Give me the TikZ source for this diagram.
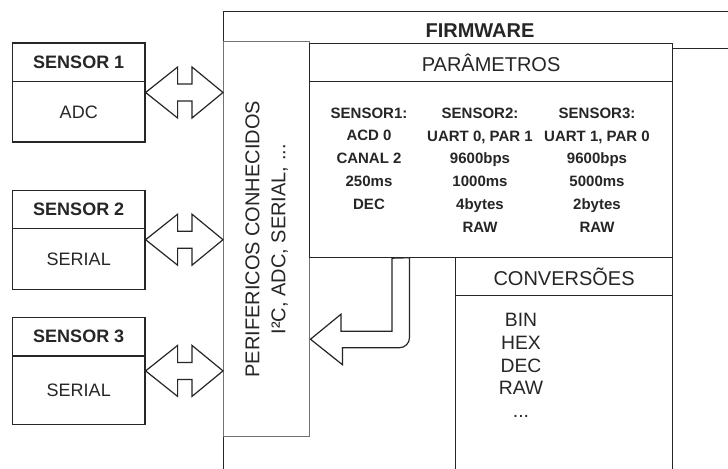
\documentclass[tikz,border=0pt]{standalone}
\usepackage{fontspec}
\setmainfont{Liberation Sans}
\usetikzlibrary{positioning, calc}

\begin{document}
\begin{tikzpicture}[x=0.75pt, y=-0.75pt, line width=0.9pt,
    box/.style={draw=black!85, inner sep=0pt, text=black!85},
    head/.style={box, minimum width=99.4pt, minimum height=28.9pt, font=\bfseries\fontsize{13.5}{16}\selectfont},
    sens/.style={box, minimum width=99.4pt, minimum height=74.25pt},
    val/.style={inner sep=0pt, text=black!85, font=\fontsize{13.5}{16}\selectfont},
    ttl/.style={box, minimum height=28.5pt, font=\fontsize{15}{18}\selectfont},
    col/.style={align=center, inner sep=0pt, text=black!85, font=\bfseries\fontsize{11.25}{17.1}\selectfont},
    bus/.style={draw=black!85, line join=miter, to path={
        -- ([shift={(32,-25.5)}]\tikztostart) -- ([shift={(32,-8.5)}]\tikztostart)
        -- ([shift={(-31,-8.5)}]\tikztotarget) -- ([shift={(-31,-25.5)}]\tikztotarget)
        -- (\tikztotarget) -- ([shift={(-31,25.5)}]\tikztotarget) -- ([shift={(-31,8.5)}]\tikztotarget)
        -- ([shift={(32,8.5)}]\tikztostart) -- ([shift={(32,25.5)}]\tikztostart) -- cycle}}]
    \useasboundingbox (0,0) rectangle (728,468);
    \fill[white] (0,0) rectangle (728,468);
    \clip (0,0) rectangle (728,468);

    % firmware frame
    \node[box, anchor=north west, minimum width=400pt, minimum height=400pt] (fw) at (223,11) {};
    \node[text=black!85, font=\bfseries\fontsize{15}{18}\selectfont] (fwt) at (480,31) {FIRMWARE};
    \node[box, anchor=north west, minimum width=60pt, minimum height=400pt] (aux) at (672,48) {};

    % perifericos
    \node[box, draw=black!55, line width=1.1pt, anchor=north west, minimum width=64.5pt, minimum height=296.25pt] (per) at (223,41) {};
    \node[rotate=90, align=center, text=black!85, font=\fontsize{15}{19.5}\selectfont] (pert) at (per.center) {PERIFERICOS CONHECIDOS\\I²C, ADC, SERIAL, ...};

    % parametros
    \node[box, anchor=north west, minimum width=272.25pt, minimum height=160.5pt] (par) at (309,43) {};
    \node[ttl, anchor=north, minimum width=272.25pt] (part) at (par.north) {PARÂMETROS};
    \node[col] (c1) at (369,158.6) {SENSOR1:\\ACD 0\\CANAL 2\\250ms\\DEC};
    \node[col] (c2) at (480,170) {SENSOR2:\\UART 0, PAR 1\\9600bps\\1000ms\\4bytes\\RAW};
    \node[col] (c3) at (597,170) {SENSOR3:\\UART 1, PAR 0\\9600bps\\5000ms\\2bytes\\RAW};

    % conversoes
    \node[box, anchor=north west, minimum width=162.75pt, minimum height=200pt] (conv) at (455,257) {};
    \node[ttl, anchor=north, minimum width=162.75pt] (convt) at (conv.north) {CONVERSÕES};
    \node[align=center, inner sep=0pt, text=black!85, font=\fontsize{14.5}{17}\selectfont] (lst) at (521,365.4) {BIN\\HEX\\DEC\\RAW\\...};

    % sensores
    \node[sens] (s1) at (78.75,92.5) {};
    \node[sens, below=35.25pt of s1] (s2) {};
    \node[sens, minimum height=80.25pt, below=20.25pt of s2] (s3) {};
    \node[head, anchor=north] (s1h) at (s1.north) {SENSOR 1};
    \node[head, anchor=north] (s2h) at (s2.north) {SENSOR 2};
    \node[head, anchor=north] (s3h) at (s3.north) {SENSOR 3};
    \node[val] (s1v) at ($(s1h.south)!0.5!(s1.south)$) {ADC};
    \node[val] (s2v) at ($(s2h.south)!0.5!(s2.south)$) {SERIAL};
    \node[val] (s3v) at ($(s3h.south)!0.5!(s3.south)$) {SERIAL};

    % barramentos
    \coordinate (p1) at (s1.east -| per.west);
    \coordinate (p2) at (s2.east -| per.west);
    \coordinate (p3) at (s3.east -| per.west);
    \draw[bus] (s1.east) to (p1);
    \draw[bus] (s2.east) to (p2);
    \draw[bus] (s3.east) to (p3);

    % seta parametros -> perifericos
    \coordinate (src) at ([shift={(83,0)}]par.south west);
    \coordinate (dst) at ([shift={(0,100)}]per.east);
    \draw[draw=black!85, line join=miter] (src) -- ++(0,73) -- ++(-51,0) -- ++(0,-17) -- (dst)
        -- ++(32,25.5) -- ++(0,-17) -- ++(20,0) [rounded corners=7.5pt] -- ++(47,0) -- ++(0,-40)
        [sharp corners] -- ++(0,-50) -- cycle;
\end{tikzpicture}
\end{document}
